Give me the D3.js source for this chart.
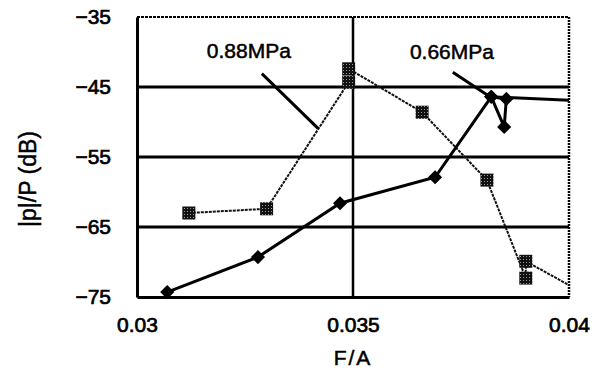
<!DOCTYPE html>
<html>
<head>
<meta charset="utf-8">
<script src="https://cdn.jsdelivr.net/npm/d3@7"></script>
<style>
  body { margin: 0; background: #fff; }
  text { font-family: "Liberation Sans", Arial, sans-serif; fill: #000; }
</style>
</head>
<body>
<div id="chart"></div>
<script>
// Axis ticks
const xTicks = [0.03, 0.035, 0.04];
const yTicks = [-75, -65, -55, -45, -35];
const yGrid = [-65, -55, -45];
const xGrid = [0.035];

// 0.66MPa series (solid, diamonds)
const fa066 = [0.0307, 0.0328, 0.0347, 0.0369, 0.0382, 0.0385, 0.03855, 0.0382, 0.04];
const db066 = [-74.3, -69.3, -61.6, -57.9, -46.4, -50.7, -46.7, -46.4, -46.9];

// 0.88MPa series (dotted, grey squares)
const fa088 = [0.0312, 0.0330, 0.0349, 0.0349, 0.0366, 0.0381, 0.0390, 0.0390, 0.04];
const db088 = [-63.0, -62.4, -44.3, -42.4, -48.6, -58.3, -72.3, -69.9, -73.3];

// Labels with leader lines
const labelText = ['0.88MPa', '0.66MPa'];
const labelX = [0.03259, 0.03729];
const labelY = [-40.85, -41.0];
const leaderFrom = [[0.03289, -43.1], [0.03731, -42.9]];
const leaderTo = [[0.03419, -50.9], [0.03817, -46.4]];

const width = 600, height = 371;
const margin = { top: 17, right: 31, bottom: 74, left: 137 };

const svg = d3.select('#chart').append('svg')
  .attr('width', width)
  .attr('height', height);

svg.append('rect').attr('width', width).attr('height', height).attr('fill', '#fff');

const defs = svg.append('defs');
const pat = defs.append('pattern')
  .attr('id', 'dots')
  .attr('width', 3).attr('height', 3)
  .attr('patternUnits', 'userSpaceOnUse');
pat.append('rect').attr('width', 3).attr('height', 3).attr('fill', '#111');
pat.append('rect').attr('x', 1).attr('y', 1).attr('width', 1).attr('height', 1).attr('fill', '#999');

const x = d3.scaleLinear()
  .domain([0.03, 0.04])
  .range([margin.left, width - margin.right]);

const y = d3.scaleLinear()
  .domain([-75, -35])
  .range([height - margin.bottom, margin.top]);

// Grid lines
svg.selectAll('.hgrid')
  .data(yGrid)
  .enter()
  .append('line')
  .attr('x1', x(0.03)).attr('x2', x(0.04))
  .attr('y1', d => y(d)).attr('y2', d => y(d))
  .attr('stroke', '#000').attr('stroke-width', 3);

svg.selectAll('.vgrid')
  .data(xGrid)
  .enter()
  .append('line')
  .attr('x1', d => x(d)).attr('x2', d => x(d))
  .attr('y1', y(-35)).attr('y2', y(-75))
  .attr('stroke', '#000').attr('stroke-width', 2.5);

// Top and right border (dotted look)
svg.append('line')
  .attr('x1', x(0.03)).attr('x2', x(0.04))
  .attr('y1', y(-35)).attr('y2', y(-35))
  .attr('stroke', '#000').attr('stroke-width', 2)
  .attr('stroke-dasharray', '3,1');

svg.append('line')
  .attr('x1', x(0.04)).attr('x2', x(0.04))
  .attr('y1', y(-35)).attr('y2', y(-75))
  .attr('stroke', '#000').attr('stroke-width', 2.5)
  .attr('stroke-dasharray', '2,1');

// Axes
const yAxis = svg.append('g')
  .attr('transform', `translate(${x(0.03)},0)`)
  .call(d3.axisLeft(y).tickValues(yTicks).tickSize(0).tickPadding(26)
    .tickFormat(d => String(d).replace('-', '\u2212')));
yAxis.select('.domain').attr('stroke-width', 3);
yAxis.selectAll('text')
  .style('font-size', '21px')
  .style('font-family', '"Liberation Sans", Arial, sans-serif')
  .attr('stroke', '#000').attr('stroke-width', 0.7);

const xAxis = svg.append('g')
  .attr('transform', `translate(0,${y(-75)})`)
  .call(d3.axisBottom(x).tickValues(xTicks).tickSize(0).tickPadding(20)
    .tickFormat(d => d3.format('')(d)));
xAxis.select('.domain').attr('stroke-width', 3);
xAxis.selectAll('text')
  .style('font-size', '21px')
  .style('font-family', '"Liberation Sans", Arial, sans-serif')
  .attr('stroke', '#000').attr('stroke-width', 0.7);

// Axis titles
svg.append('text')
  .attr('x', x(0.035))
  .attr('y', 365)
  .attr('text-anchor', 'middle')
  .style('font-size', '21px')
  .style('letter-spacing', '2px')
  .attr('stroke', '#000').attr('stroke-width', 0.5)
  .text('F/A');

svg.append('text')
  .attr('transform', 'translate(36,179) rotate(-90)')
  .attr('text-anchor', 'middle')
  .style('font-size', '23px')
  .attr('stroke', '#000').attr('stroke-width', 0.5)
  .text('|p|/P (dB)');

// Series lines
const s088 = fa088.map((v, i) => ({ x: v, y: db088[i] }));
const s066 = fa066.map((v, i) => ({ x: v, y: db066[i] }));
const line = d3.line().x(d => x(d.x)).y(d => y(d.y));

svg.append('path')
  .datum(s088)
  .attr('d', line)
  .attr('fill', 'none')
  .attr('stroke', '#111')
  .attr('stroke-width', 2)
  .attr('stroke-dasharray', '3,1');

svg.append('path')
  .datum(s066)
  .attr('d', line)
  .attr('fill', 'none')
  .attr('stroke', '#000')
  .attr('stroke-width', 3);

// Markers (none on the edge points)
svg.selectAll('.sq')
  .data(s088.filter(d => d.x < 0.04))
  .enter()
  .append('rect')
  .attr('x', d => x(d.x) - 6.5)
  .attr('y', d => y(d.y) - 6.5)
  .attr('width', 13)
  .attr('height', 13)
  .attr('fill', 'url(#dots)');

svg.selectAll('.dm')
  .data(s066.filter(d => d.x < 0.04))
  .enter()
  .append('path')
  .attr('d', d3.symbol(d3.symbolSquare, 100))
  .attr('transform', d => `translate(${x(d.x)},${y(d.y)}) rotate(45)`)
  .attr('fill', '#000');

// Labels and leaders
svg.selectAll('.leader')
  .data(leaderFrom)
  .enter()
  .append('line')
  .attr('x1', d => x(d[0])).attr('y1', d => y(d[1]))
  .attr('x2', (d, i) => x(leaderTo[i][0])).attr('y2', (d, i) => y(leaderTo[i][1]))
  .attr('stroke', '#000').attr('stroke-width', 3);

svg.selectAll('.lbl')
  .data(labelText)
  .enter()
  .append('text')
  .attr('x', (d, i) => x(labelX[i]))
  .attr('y', (d, i) => y(labelY[i]))
  .attr('text-anchor', 'middle')
  .style('font-size', '21px')
  .attr('stroke', '#000').attr('stroke-width', 0.5)
  .text(d => d);
</script>
</body>
</html>
